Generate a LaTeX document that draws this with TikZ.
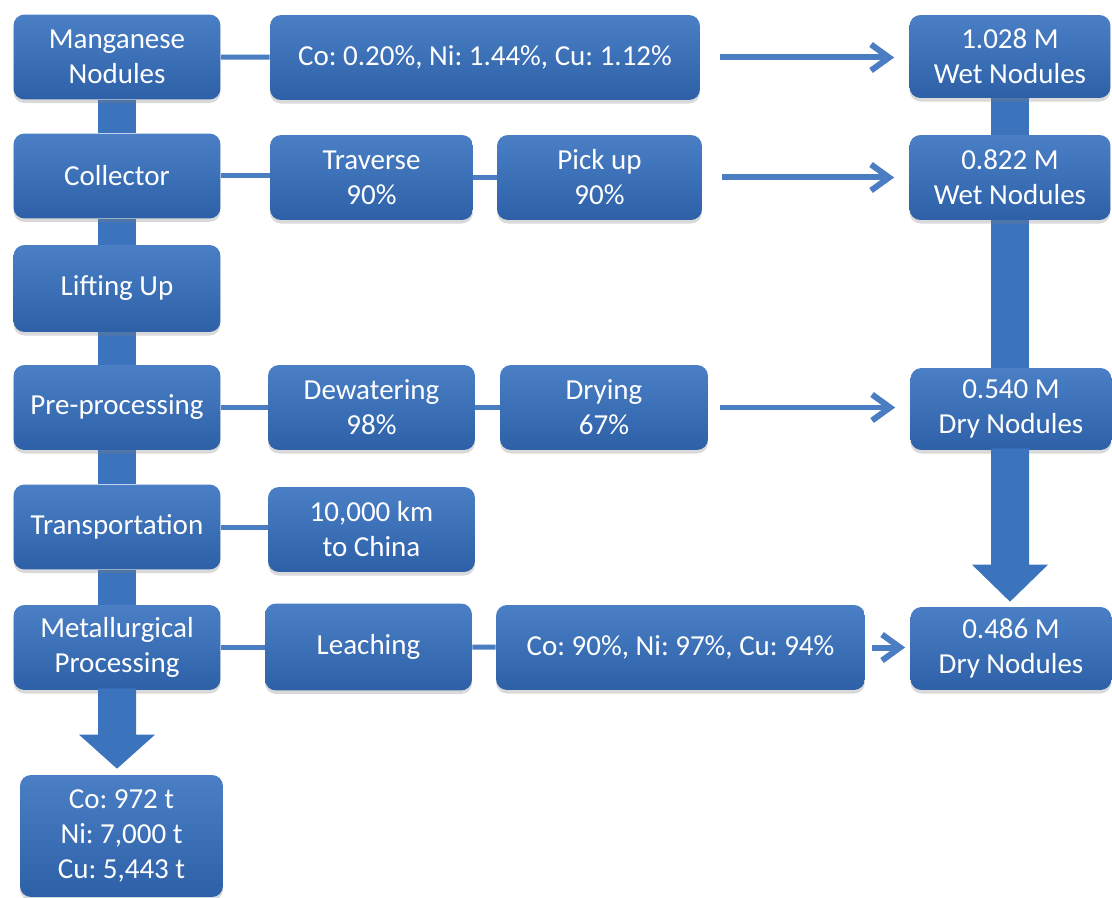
\documentclass[tikz,border=0pt]{standalone}
\usepackage{fontspec}
\setmainfont{Carlito}
\frenchspacing
\usetikzlibrary{positioning, arrows.meta, calc, backgrounds, shadows}
\definecolor{boxTop}{HTML}{4A7FC6}
\definecolor{boxBottom}{HTML}{2D60A7}
\definecolor{trunkBlue}{HTML}{3B73BC}
\definecolor{lineBlue}{HTML}{4A7DC2}
\tikzset{
  procbox/.style={rounded corners=0.22cm, top color=boxTop, bottom color=boxBottom,
    draw=none, text=white, font=\fontsize{16.5}{19.9}\selectfont, align=center,
    minimum width=4.14cm, minimum height=1.7cm, inner sep=2pt,
    drop shadow={shadow xshift=0pt, shadow yshift=-2pt, opacity=0.3}},
  trunk/.style={draw=trunkBlue, line width=0.76cm},
  bigarrow/.style={fill=trunkBlue},
  link/.style={draw=lineBlue, line width=0.1cm},
  flow/.style={draw=lineBlue, line width=0.12cm,
    -{Straight Barb[length=0.36cm, width=0.52cm]}},
}
\begin{document}
\begin{tikzpicture}[x=0.02cm, y=-0.02cm]
  \useasboundingbox (0,0) rectangle (1112,898);

  % === Left column: process steps ===
  \node[procbox] (mnod) at (117,57) {Manganese\\Nodules};
  \node[procbox] (collect) at (117,176) {Collector};
  \node[procbox, minimum height=1.74cm] (lift) at (117,288.5) {Lifting Up};
  \node[procbox] (prep) at (117,407.5) {Pre-processing};
  \node[procbox] (transp) at (117,527) {Transportation};
  \node[procbox] (metal) at (117,647.5) {Metallurgical\\Processing};
  \node[procbox, minimum width=4.06cm, minimum height=2.44cm] (yield) at (121.5,836) {Co: 972 t\\Ni: 7,000 t\\Cu: 5,443 t};

  % === Middle: details of each step ===
  \node[procbox, minimum width=8.6cm] (grade) at (485,57.5) {Co: 0.20\%, Ni: 1.44\%, Cu: 1.12\%};
  \node[procbox, minimum width=4.06cm] (trav) at (371.5,177.5) {Traverse\\90\%};
  \node[procbox, minimum width=4.1cm] (pick) at (599.5,177.5) {Pick up\\90\%};
  \node[procbox] (dewat) at (371.5,407.5) {Dewatering\\98\%};
  \node[procbox, minimum width=4.16cm] (dry) at (604,407.5) {Drying\\67\%};
  \node[procbox] (dist) at (371.5,529.5) {10,000 km\\to China};
  \node[procbox, minimum height=1.74cm] (leach) at (368.5,647) {Leaching};
  \node[procbox, minimum width=7.38cm] (recov) at (680.5,647.5) {Co: 90\%, Ni: 97\%, Cu: 94\%};

  % === Right column: nodule masses ===
  \node[procbox, minimum width=4.02cm, minimum height=1.66cm] (wet1) at (1010,56.5) {1.028 M\\Wet Nodules};
  \node[procbox, minimum width=4.02cm] (wet2) at (1010,177.5) {0.822 M\\Wet Nodules};
  \node[procbox, minimum width=4.02cm, minimum height=1.64cm] (dry1) at (1011,409) {0.540 M\\Dry Nodules};
  \node[procbox, minimum width=4.02cm, minimum height=1.66cm] (dry2) at (1011,648.5) {0.486 M\\Dry Nodules};

  % Trunks and links behind the boxes
  \begin{scope}[on background layer]
    \draw[trunk] (mnod) -- (collect);
    \draw[trunk] (collect) -- (lift);
    \draw[trunk] (lift) -- (prep);
    \draw[trunk] (prep) -- (transp);
    \draw[trunk] (transp) -- (metal);
    \draw[trunk] (wet1) -- (wet1 |- wet2);
    \draw[trunk] (wet1 |- wet2) -- (wet1 |- dry1);

    \draw[link] (mnod) -- (grade);
    \draw[link] (collect.east) -- (collect.east -| trav.west);
    \draw[link] (trav) -- (pick);
    \draw[link] (prep) -- (dewat);
    \draw[link] (dewat) -- (dry);
    \draw[link] (transp) -- (transp -| dist.west);
    \draw[link] (metal) -- (metal -| leach.west);
    \draw[link] (leach) -- (recov);
  \end{scope}

  % Big block arrows
  \fill[bigarrow] ($(metal.south)+(-19,-2)$) -- ($(metal.south |- yield.north)+(-19,-40)$)
    -- ($(metal.south |- yield.north)+(-38,-40)$) -- ($(metal.south |- yield.north)+(0,-6)$)
    -- ($(metal.south |- yield.north)+(38,-40)$) -- ($(metal.south |- yield.north)+(19,-40)$)
    -- ($(metal.south)+(19,-2)$) -- cycle;
  \fill[bigarrow] ($(wet1.south |- dry1.south)+(-19,-2)$) -- ($(wet1.south |- dry2.north)+(-19,-42)$)
    -- ($(wet1.south |- dry2.north)+(-38,-42)$) -- ($(wet1.south |- dry2.north)+(0,-5)$)
    -- ($(wet1.south |- dry2.north)+(38,-42)$) -- ($(wet1.south |- dry2.north)+(19,-42)$)
    -- ($(wet1.south |- dry1.south)+(19,-2)$) -- cycle;

  % Flow arrows to the masses
  \draw[flow, shorten <=0.4cm, shorten >=0.3cm] (grade.east) -- (grade.east -| wet1.west);
  \draw[flow, shorten <=0.4cm, shorten >=0.3cm] (pick.east) -- (pick.east -| wet2.west);
  \draw[flow, shorten <=0.24cm, shorten >=0.3cm] (dry.east) -- (dry.east -| dry1.west);
  \draw[flow, shorten <=0.14cm, shorten >=0.1cm] (recov.east) -- (recov.east -| dry2.west);

\end{tikzpicture}
\end{document}
